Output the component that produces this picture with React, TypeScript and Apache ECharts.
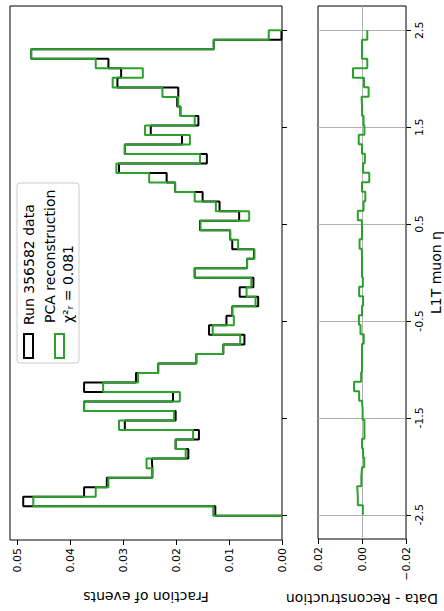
import React, { useEffect, useRef } from "react";
import * as echarts from "echarts";

// Histogram binning (L1T muon eta)
const ETA_MIN = -2.5;
const ETA_MAX = 2.5;
const N_BINS = 51;

// Fraction of events per bin, ascending eta (from -2.5 to 2.5)
const DATA_FRACTION = [
  0.0126, 0.0489, 0.0374, 0.0331, 0.0245, 0.0246, 0.0177, 0.0201, 0.0157, 0.0297,
  0.0201, 0.0374, 0.0206, 0.0374, 0.0276, 0.0234, 0.0162, 0.0111, 0.0071, 0.0138,
  0.0105, 0.0094, 0.0045, 0.0080, 0.0054, 0.0165, 0.0066, 0.0053, 0.0094, 0.0098,
  0.0155, 0.0081, 0.0118, 0.0150, 0.0202, 0.0218, 0.0308, 0.0142, 0.0297, 0.0189,
  0.0248, 0.0158, 0.0192, 0.0198, 0.0196, 0.0311, 0.0304, 0.0328, 0.0474, 0.0129,
  0.0001,
];
const RECO_FRACTION = [
  0.0130, 0.0470, 0.0352, 0.0328, 0.0245, 0.0256, 0.0182, 0.0201, 0.0168, 0.0308,
  0.0204, 0.0374, 0.0193, 0.0338, 0.0272, 0.0234, 0.0162, 0.0111, 0.0079, 0.0131,
  0.0091, 0.0094, 0.0050, 0.0067, 0.0058, 0.0165, 0.0066, 0.0052, 0.0083, 0.0098,
  0.0154, 0.0062, 0.0125, 0.0165, 0.0202, 0.0251, 0.0313, 0.0155, 0.0297, 0.0174,
  0.0259, 0.0165, 0.0192, 0.0196, 0.0226, 0.0320, 0.0263, 0.0352, 0.0474, 0.0129,
  0.0025,
];
// Data - Reconstruction per bin, ascending eta
const RESIDUAL = [
  -0.0004, 0.0019, 0.0022, 0.0003, 0.0000, -0.0010, -0.0005, 0.0000, -0.0011, -0.0011,
  -0.0003, 0.0000, 0.0013, 0.0036, 0.0004, 0.0000, 0.0000, 0.0000, -0.0008, 0.0007,
  0.0014, 0.0000, -0.0005, 0.0013, -0.0004, 0.0000, 0.0000, 0.0001, 0.0011, 0.0000,
  0.0001, 0.0019, -0.0007, -0.0015, 0.0000, -0.0033, -0.0005, -0.0013, 0.0000, 0.0015,
  -0.0011, -0.0007, 0.0000, 0.0002, -0.0030, -0.0009, 0.0041, -0.0024, 0.0000, 0.0000,
  -0.0024,
];

const ETA_TICKS = [-2.5, -1.5, -0.5, 0.5, 1.5, 2.5];
const ETA_TICK_LABELS = ["-2.5", "-1.5", "-0.5", "0.5", "1.5", "2.5"];
const FRACTION_TICKS = [0, 0.01, 0.02, 0.03, 0.04, 0.05];
const FRACTION_TICK_LABELS = ["0.00", "0.01", "0.02", "0.03", "0.04", "0.05"];
const RESID_TICKS = [-0.02, 0, 0.02];
const RESID_TICK_LABELS = ["\u22120.02", "0.00", "0.02"];
const LEGEND_LABELS = ["Run 356582 data", "PCA reconstruction\n\u03c7\u00b2\u1d63 = 0.081"];

const FONT = "DejaVu Sans";
const GREEN = "#2ca02c";

function binEdges(): number[] {
  const w = (ETA_MAX - ETA_MIN) / N_BINS;
  return Array.from({ length: N_BINS + 1 }, (_, k) => ETA_MIN + k * w);
}

function stepOutline(values: number[], baseline: boolean): number[][] {
  const e = binEdges();
  const pts: number[][] = [];
  if (baseline) pts.push([0, e[0]]);
  values.forEach((v, i) => {
    pts.push([v, e[i]]);
    pts.push([v, e[i + 1]]);
  });
  if (baseline) pts.push([0, e[values.length]]);
  return pts;
}

function lookup(ticks: number[], labels: string[]) {
  return (v: number) => {
    const i = ticks.findIndex((t) => Math.abs(t - v) < 1e-9);
    return i >= 0 ? labels[i] : "";
  };
}

const tickStyle = { color: "#000", width: 1 };
const labelBase = { fontSize: 11, fontFamily: FONT, color: "#000" };
const nameBase = { fontSize: 14, fontFamily: FONT, color: "#000" };
const noLine = { show: false, onZero: false };

export default function App() {
  const ref = useRef<HTMLDivElement>(null);
  useEffect(() => {
    document.body.style.margin = "0";
    if (!ref.current) return;
    const chart = echarts.init(ref.current, undefined, { renderer: "svg" });
    const option: any = {
      animation: false,
      grid: [
        { left: 10, top: 6, width: 272, height: 534, show: true, borderColor: "#000", borderWidth: 1 },
        { left: 318, top: 6, width: 91, height: 534, show: true, borderColor: "#000", borderWidth: 1 },
      ],
      xAxis: [
        {
          type: "value", gridIndex: 0, min: 0, max: 0.0514, inverse: true, position: "bottom",
          axisLine: noLine, splitLine: { show: false },
          axisTick: { show: true, inside: false, length: 5, customValues: FRACTION_TICKS, lineStyle: tickStyle },
          axisLabel: { show: true, customValues: FRACTION_TICKS, rotate: 90, margin: 8, ...labelBase, formatter: lookup(FRACTION_TICKS, FRACTION_TICK_LABELS) },
          name: "Fraction of events", nameLocation: "middle", nameRotate: 180, nameGap: 50, nameTextStyle: nameBase,
        },
        {
          type: "value", gridIndex: 1, min: -0.02, max: 0.02, inverse: true, position: "bottom",
          axisLine: noLine, splitLine: { show: false },
          axisTick: { show: true, inside: false, length: 5, customValues: RESID_TICKS, lineStyle: tickStyle },
          axisLabel: { show: true, customValues: RESID_TICKS, rotate: 90, margin: 8, ...labelBase, formatter: lookup(RESID_TICKS, RESID_TICK_LABELS) },
          name: "Data - Reconstruction", nameLocation: "middle", nameRotate: 180, nameGap: 53, nameTextStyle: nameBase,
        },
      ],
      yAxis: [
        {
          type: "value", gridIndex: 0, min: -2.75, max: 2.75, position: "right",
          axisLine: noLine, splitLine: { show: false },
          axisTick: { show: true, inside: false, length: 5, customValues: ETA_TICKS, lineStyle: tickStyle },
          axisLabel: { show: false },
        },
        {
          type: "value", gridIndex: 1, min: -2.75, max: 2.75, position: "right",
          axisLine: noLine, splitLine: { show: false },
          axisTick: { show: true, inside: false, length: 5, customValues: ETA_TICKS, lineStyle: tickStyle },
          axisLabel: { show: true, customValues: ETA_TICKS, rotate: 90, margin: 8, ...labelBase, formatter: lookup(ETA_TICKS, ETA_TICK_LABELS) },
          name: "L1T muon \u03b7", nameLocation: "middle", nameRotate: 90, nameGap: 23, nameTextStyle: nameBase,
        },
      ],
      series: [
        {
          name: "Run 356582 data", type: "line", xAxisIndex: 0, yAxisIndex: 0,
          data: stepOutline(DATA_FRACTION, true), showSymbol: false, symbol: "none",
          lineStyle: { color: "#000", width: 2 }, z: 3, silent: true,
        },
        {
          name: "PCA reconstruction", type: "line", xAxisIndex: 0, yAxisIndex: 0,
          data: stepOutline(RECO_FRACTION, true), showSymbol: false, symbol: "none",
          lineStyle: { color: GREEN, width: 2 }, z: 4, silent: true,
        },
        {
          name: "grid", type: "line", xAxisIndex: 1, yAxisIndex: 1, data: [], z: 1, silent: true,
          markLine: {
            z: 1, silent: true, symbol: ["none", "none"], label: { show: false },
            lineStyle: { color: "#b0b0b0", width: 1, type: "solid" },
            data: [...ETA_TICKS.map((v) => ({ yAxis: v })), { xAxis: 0 }],
          },
        },
        {
          name: "Data - Reconstruction", type: "line", xAxisIndex: 1, yAxisIndex: 1,
          data: stepOutline(RESIDUAL, false), showSymbol: false, symbol: "none",
          lineStyle: { color: GREEN, width: 2 }, z: 8, silent: true,
        },
      ],
      graphic: [
        { type: "rect", z: 100, shape: { x: 17, y: 183, width: 62, height: 180, r: 3 }, style: { fill: "rgba(255,255,255,0.8)", stroke: "#cccccc", lineWidth: 1 } },
        { type: "rect", z: 101, shape: { x: 24, y: 334, width: 9, height: 24 }, style: { fill: "none", stroke: "#000", lineWidth: 2 } },
        { type: "rect", z: 101, shape: { x: 55, y: 334, width: 9, height: 24 }, style: { fill: "none", stroke: GREEN, lineWidth: 2 } },
        { type: "text", z: 101, x: 29, y: 325, rotation: Math.PI / 2, style: { text: LEGEND_LABELS[0], fontSize: 14, fontFamily: FONT, fill: "#000", align: "left", verticalAlign: "middle" } },
        { type: "text", z: 101, x: 58.5, y: 323, rotation: Math.PI / 2, style: { text: LEGEND_LABELS[1], fontSize: 14, fontFamily: FONT, lineHeight: 18, fill: "#000", align: "left", verticalAlign: "middle" } },
      ],
    };
    chart.setOption(option);
    return () => chart.dispose();
  }, []);
  return <div ref={ref} style={{ width: 444, height: 611 }} />;
}
